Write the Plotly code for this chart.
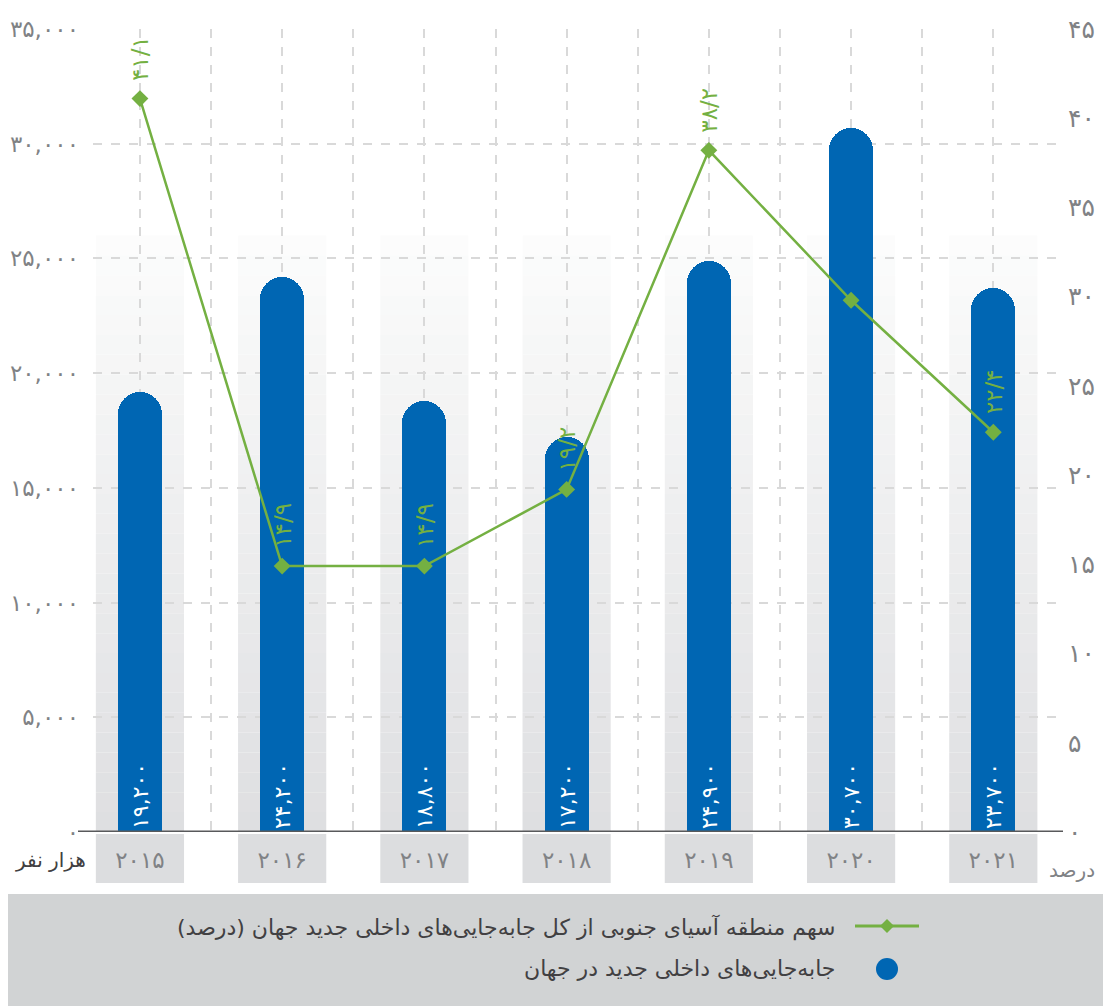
import plotly.graph_objects as go

# data
years = ["2015", "2016", "2017", "2018", "2019", "2020", "2021"]
displacements = [19200, 24200, 18800, 17200, 24900, 30700, 23700]  # thousand people
south_asia_share = [41.1, 14.9, 14.9, 19.2, 38.2, 29.8, 22.4]      # percent
share_label_shown = [True, True, True, True, True, False, True]
left_ticks = [0, 5000, 10000, 15000, 20000, 25000, 30000, 35000]
right_ticks = [0, 5, 10, 15, 20, 25, 30, 35, 40, 45]

legend_line = "سهم منطقه آسیای جنوبی از کل جابه\u200cجایی\u200cهای داخلی جدید جهان (درصد)"
legend_bar = "جابه\u200cجایی\u200cهای داخلی جدید در جهان"
left_unit = "هزار نفر"
right_unit = "درصد"

BLUE = "#0066b3"
GREEN = "#74b042"
GREY_TXT = "#808285"
DARK_TXT = "#414042"
FONT = "DejaVu Sans"

fa = str.maketrans("0123456789", "۰۱۲۳۴۵۶۷۸۹")


def fa_int(v):
    return f"{v:,}".translate(fa)


def fa_dec(v):
    return f"{v:.1f}".replace(".", "/").translate(fa)


# plot area in pixels
W, H = 1103, 1006
L, R, T, B = 93, 1063, 29, 832


def px(x):
    return (x - L) / (R - L)


def py(y):
    return (B - y) / (B - T)


idx = list(range(len(years)))

fig = go.Figure()

fig.add_trace(go.Bar(
    x=idx, y=displacements, width=0.31,
    marker=dict(color=BLUE, cornerradius="50%", line=dict(width=0)),
    text=[fa_int(v) for v in displacements],
    textposition="inside", insidetextanchor="start", textangle=-90,
    textfont=dict(family=FONT, size=22, color="white"),
    constraintext="none", hoverinfo="skip",
))

fig.add_trace(go.Scatter(
    x=idx, y=south_asia_share, yaxis="y2", mode="lines+markers",
    line=dict(color=GREEN, width=2.5),
    marker=dict(symbol="diamond", size=13, color=GREEN),
    hoverinfo="skip",
))

shapes = []
# grey gradient bands behind each category
band_half = 0.31
band_top = 26000
steps = 30
c_bot = (222, 223, 225)
c_top = (252, 252, 252)
for i in idx:
    for s in range(steps):
        t = (s + 0.5) / steps
        c = tuple(round(c_bot[k] + (c_top[k] - c_bot[k]) * t) for k in range(3))
        shapes.append(dict(
            type="rect", xref="x", yref="y", layer="below",
            x0=i - band_half, x1=i + band_half,
            y0=band_top * s / steps, y1=band_top * (s + 1) / steps,
            fillcolor="rgb(%d,%d,%d)" % c, line=dict(width=0)))
    shapes.append(dict(
        type="rect", xref="x", yref="paper", layer="below",
        x0=i - band_half, x1=i + band_half, y0=py(883), y1=py(834),
        fillcolor="#dcdddf", line=dict(width=0)))

# baseline
shapes.append(dict(type="line", xref="paper", yref="y", layer="above",
                   x0=px(78), x1=px(1063), y0=0, y1=0,
                   line=dict(color="#58595b", width=3)))

# legend panel
shapes.append(dict(type="rect", xref="paper", yref="paper", layer="below",
                   x0=px(8), x1=px(1103), y0=py(1006), y1=py(894),
                   fillcolor="#d1d3d4", line=dict(width=0)))
shapes.append(dict(type="line", xref="paper", yref="paper",
                   x0=px(855), x1=px(919), y0=py(926), y1=py(926),
                   line=dict(color=GREEN, width=3)))
shapes.append(dict(type="path", xref="paper", yref="paper",
                   path="M %f %f L %f %f L %f %f L %f %f Z" % (
                       px(880), py(926), px(887), py(919),
                       px(894), py(926), px(887), py(933)),
                   fillcolor=GREEN, line=dict(width=0)))
shapes.append(dict(type="circle", xref="paper", yref="paper",
                   x0=px(876), x1=px(898), y0=py(980), y1=py(958),
                   fillcolor=BLUE, line=dict(width=0)))

annotations = []
for i, v, show in zip(idx, south_asia_share, share_label_shown):
    if not show:
        continue
    annotations.append(dict(
        x=i, y=v, xref="x", yref="y2", text=fa_dec(v), textangle=-90,
        showarrow=False, xanchor="center", yanchor="bottom", yshift=16,
        font=dict(family=FONT, size=23, color=GREEN)))

annotations += [
    dict(x=px(837), y=py(927), xref="paper", yref="paper", text=legend_line,
         showarrow=False, xanchor="right", yanchor="middle",
         font=dict(family=FONT, size=22, color=DARK_TXT)),
    dict(x=px(837), y=py(968), xref="paper", yref="paper", text=legend_bar,
         showarrow=False, xanchor="right", yanchor="middle",
         font=dict(family=FONT, size=22, color=DARK_TXT)),
    dict(x=px(50), y=py(860), xref="paper", yref="paper", text=left_unit,
         showarrow=False, xanchor="center", yanchor="middle",
         font=dict(family=FONT, size=20, color=DARK_TXT)),
    dict(x=px(1072), y=py(870), xref="paper", yref="paper", text=right_unit,
         showarrow=False, xanchor="center", yanchor="middle",
         font=dict(family=FONT, size=20, color=GREY_TXT)),
]

grid = dict(showgrid=True, gridcolor="#d9d9d9", griddash="dash", gridwidth=1.5)

fig.update_layout(
    width=W, height=H,
    margin=dict(l=L, r=W - R, t=T, b=H - B, pad=0),
    plot_bgcolor="white", paper_bgcolor="white",
    showlegend=False, bargap=0,
    font=dict(family=FONT, size=20, color=GREY_TXT),
    xaxis=dict(
        range=[-0.33, 6.49], tickmode="array", tickvals=idx,
        ticktext=[y.translate(fa) for y in years], automargin=False,
        ticks="", ticklabelstandoff=12, showline=False, zeroline=False,
        tickfont=dict(size=23, color=GREY_TXT),
        minor=dict(tickmode="linear", tick0=0, dtick=0.5, **grid),
        **grid),
    yaxis=dict(
        range=[0, 35000], tickmode="array", tickvals=left_ticks,
        ticktext=[fa_int(v) for v in left_ticks], ticks="", automargin=False,
        ticklabelstandoff=13, zeroline=False, showline=False,
        tickfont=dict(size=23, color=GREY_TXT), **grid),
    yaxis2=dict(
        range=[0, 45], overlaying="y", side="right", tickmode="array",
        tickvals=right_ticks, ticktext=[str(v).translate(fa) for v in right_ticks],
        ticks="", showgrid=False, zeroline=False, showline=False, automargin=False,
        ticklabelstandoff=4, tickfont=dict(size=25, color=GREY_TXT)),
    shapes=shapes, annotations=annotations,
)

# the page body has a default 8px margin; remove it so the figure sits at 0,0
fig.write_html("out.html", config={"displayModeBar": False},
               post_script="document.body.style.margin='0';")
